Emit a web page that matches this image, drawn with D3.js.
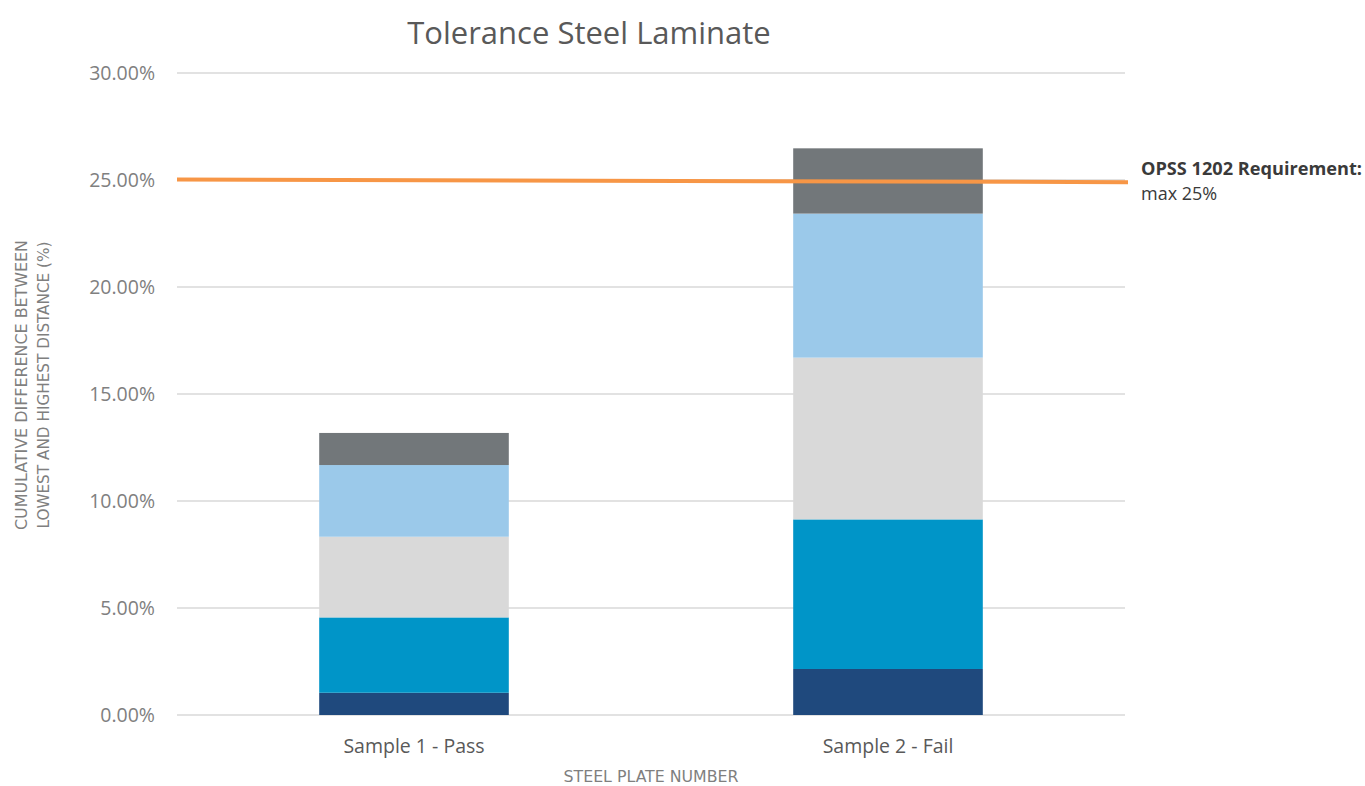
<!DOCTYPE html>
<html>
<head>
<meta charset="utf-8">
<script src="https://cdn.jsdelivr.net/npm/d3@7"></script>
<style>
  body { margin: 0; background: #fff; }
  svg { display: block; }
</style>
</head>
<body>
<svg id="chart" width="1365" height="786"></svg>
<script>
// data (percent)
const samples = ["Sample 1 - Pass", "Sample 2 - Fail"];
const layer1 = [1.04, 2.15];
const layer2 = [3.52, 6.99];
const layer3 = [3.77, 7.56];
const layer4 = [3.35, 6.73];
const layer5 = [1.50, 3.05];
const yTicks = [0, 5, 10, 15, 20, 25, 30];
const limitLine = [25.02, 24.9]; // hand drawn line, slightly tilted
const layerColors = ["#1f497d", "#0095c8", "#d9d9d9", "#9bc9ea", "#72777a"];

const svg = d3.select("#chart");
const margin = { left: 177, right: 240, top: 73, bottom: 71 };
const width = 1365, height = 786;

const x = d3.scaleBand().domain(samples).range([margin.left, width - margin.right]).paddingInner(0.6).paddingOuter(0.3);
const y = d3.scaleLinear().domain([0, 30]).range([height - margin.bottom, margin.top]);

// gridlines
svg.append("g")
  .selectAll("line")
  .data(yTicks)
  .join("line")
  .attr("x1", margin.left)
  .attr("x2", width - margin.right)
  .attr("y1", d => y(d))
  .attr("y2", d => y(d))
  .attr("stroke", "#d9d9d9")
  .attr("stroke-width", 1.5);

// y axis labels
svg.append("g")
  .selectAll("text")
  .data(yTicks)
  .join("text")
  .attr("x", 155)
  .attr("y", d => y(d))
  .attr("dy", "0.35em")
  .attr("text-anchor", "end")
  .attr("font-family", "'Open Sans', sans-serif")
  .attr("font-size", 19.5)
  .attr("fill", "#808080")
  .text(d => d3.format(".2f")(d) + "%");

// stacked bars
const rows = samples.map((s, i) => ({
  sample: s, l1: layer1[i], l2: layer2[i], l3: layer3[i], l4: layer4[i], l5: layer5[i]
}));
const stack = d3.stack().keys(["l1", "l2", "l3", "l4", "l5"])(rows);

svg.append("g")
  .selectAll("g")
  .data(stack)
  .join("g")
  .attr("fill", (d, i) => layerColors[i])
  .selectAll("rect")
  .data(d => d)
  .join("rect")
  .attr("x", d => x(d.data.sample))
  .attr("width", x.bandwidth())
  .attr("y", d => y(d[1]))
  .attr("height", d => y(d[0]) - y(d[1]));

// requirement line
const lineX = [margin.left, 1128];
svg.append("line")
  .attr("x1", lineX[0])
  .attr("x2", lineX[1])
  .attr("y1", y(limitLine[0]))
  .attr("y2", y(limitLine[1]))
  .attr("stroke", "#f79646")
  .attr("stroke-width", 4);

svg.append("text")
  .attr("x", 1141)
  .attr("y", 175)
  .attr("font-family", "'Open Sans', sans-serif")
  .attr("font-size", 18)
  .attr("font-weight", "bold")
  .attr("fill", "#3a3a3a")
  .attr("textLength", 221)
  .attr("lengthAdjust", "spacingAndGlyphs")
  .text("OPSS 1202 Requirement:");

svg.append("text")
  .attr("x", 1141)
  .attr("y", 200)
  .attr("font-family", "'Open Sans', sans-serif")
  .attr("font-size", 18)
  .attr("fill", "#3a3a3a")
  .text("max 25%");

// x labels
svg.append("g")
  .selectAll("text")
  .data(samples)
  .join("text")
  .attr("x", d => x(d) + x.bandwidth() / 2)
  .attr("y", 753)
  .attr("text-anchor", "middle")
  .attr("font-family", "'Open Sans', sans-serif")
  .attr("font-size", 19.5)
  .attr("fill", "#595959")
  .text(d => d);

svg.append("text")
  .attr("x", 651)
  .attr("y", 782)
  .attr("text-anchor", "middle")
  .attr("font-family", "'Liberation Sans Narrow', 'DejaVu Sans Condensed', sans-serif")
  .attr("font-size", 15)
  .attr("fill", "#7f7f7f")
  .attr("textLength", 175)
  .attr("lengthAdjust", "spacingAndGlyphs")
  .text("STEEL PLATE NUMBER");

// y axis title
const yTitle = svg.append("text")
  .attr("transform", "translate(0,385) rotate(-90)")
  .attr("text-anchor", "middle")
  .attr("font-family", "'Liberation Sans Narrow', 'DejaVu Sans Condensed', sans-serif")
  .attr("font-size", 15)
  .attr("fill", "#7f7f7f");
yTitle.append("tspan").attr("x", 0).attr("y", 27)
  .attr("textLength", 290).attr("lengthAdjust", "spacingAndGlyphs")
  .text("CUMULATIVE DIFFERENCE BETWEEN");
yTitle.append("tspan").attr("x", 0).attr("y", 49)
  .attr("textLength", 287).attr("lengthAdjust", "spacingAndGlyphs")
  .text("LOWEST AND HIGHEST DISTANCE (%)");

// title
svg.append("text")
  .attr("x", 589)
  .attr("y", 44)
  .attr("text-anchor", "middle")
  .attr("font-family", "'Open Sans', sans-serif")
  .attr("font-size", 31)
  .attr("fill", "#595959")
  .text("Tolerance Steel Laminate");
</script>
</body>
</html>
